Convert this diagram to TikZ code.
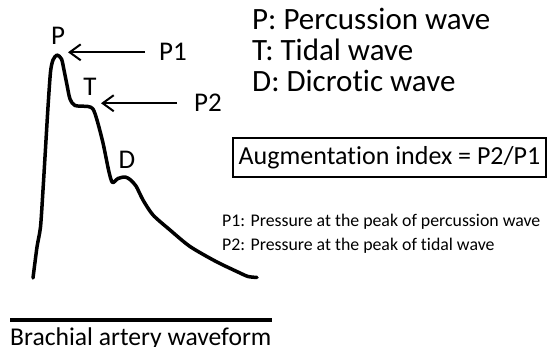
\documentclass[tikz,border=0pt]{standalone}
\usepackage{fontspec}
\setmainfont[Ligatures=NoCommon]{Carlito}
\usetikzlibrary{arrows.meta}

\begin{document}
\begin{tikzpicture}[x=1pt,y=-1pt,
  lbl/.style={font=\fontsize{27}{30}\selectfont,inner sep=0pt},
  key/.style={font=\fontsize{31}{34}\selectfont,inner sep=0pt,anchor=base west},
  note/.style={font=\fontsize{17.8}{20}\selectfont,inner sep=0pt,anchor=base west},
  ptr/.style={-{Straight Barb[length=11pt,width=16pt]},line width=2pt}]
\useasboundingbox (0,0) rectangle (548,347);
% ---- the pressure trace -------------------------------------------------
% pixel units, y running down as in the source image
\draw[line width=3.5pt,line join=round,line cap=round] plot[smooth,tension=0.45] coordinates
  {(33,278) (37,247) (40.5,227) (43,190) (45,157) (48,107) (50.5,72) (53,60)
   (57,55) (61.5,59) (64,70) (67,85) (70,99) (75,105.5) (88,106.5) (93,109)
   (97,120) (103,143) (109,172) (112.5,182.5) (118,178.5) (125,177) (130,179.5)
   (136,186) (143,200) (153,215) (170,230) (190,246.5) (216,261.5) (240,273)
   (248,276.5) (257,277.5)};
\coordinate (tipP) at (68,53);
\coordinate (tipT) at (101,104);
% peak letters
\node[lbl,anchor=base] (labP) at (58,45) {P};
\node[lbl,anchor=base] (labT) at (90,96) {T};
\node[lbl,anchor=base] (labD) at (127,169) {D};
% pressure pointers
\node[lbl,anchor=base west] (labP1) at (159,61) {P1};
\node[lbl,anchor=base west] (labP2) at (194,112) {P2};
\draw[ptr] ([xshift=-14pt]labP1.west) -- (tipP |- labP1.west);
\draw[ptr] ([xshift=-17pt]labP2.west) -- (tipT |- labP2.west);

% ---- legend -------------------------------------------------------------
\node[key] (keyP) at (252,30) {P: Percussion wave};
\node[key] (keyT) at (252,61) {T: Tidal wave};
\node[key] (keyD) at (252,92) {D: Dicrotic wave};
\node[draw,line width=1.2pt,inner sep=0pt,minimum width=313pt,minimum height=39pt,
  font=\fontsize{26}{30}\selectfont] (aix) at (389.5,157.5) {Augmentation index = P2/P1};
\node[note] (defP1) at (222,226) {P1: Pressure at the peak of percussion wave};
\node[note] (defP2) at (222,250) {P2: Pressure at the peak of tidal wave};

% ---- caption ------------------------------------------------------------
% rule sits just above the caption, which runs off the lower edge
\draw[line width=3.3pt] (10,320) -- (272,320);
\node[font=\fontsize{25.6}{30}\selectfont,inner sep=0pt,anchor=base west] (title) at (10,345)
  {Brachial artery waveform};
\end{tikzpicture}
\end{document}
